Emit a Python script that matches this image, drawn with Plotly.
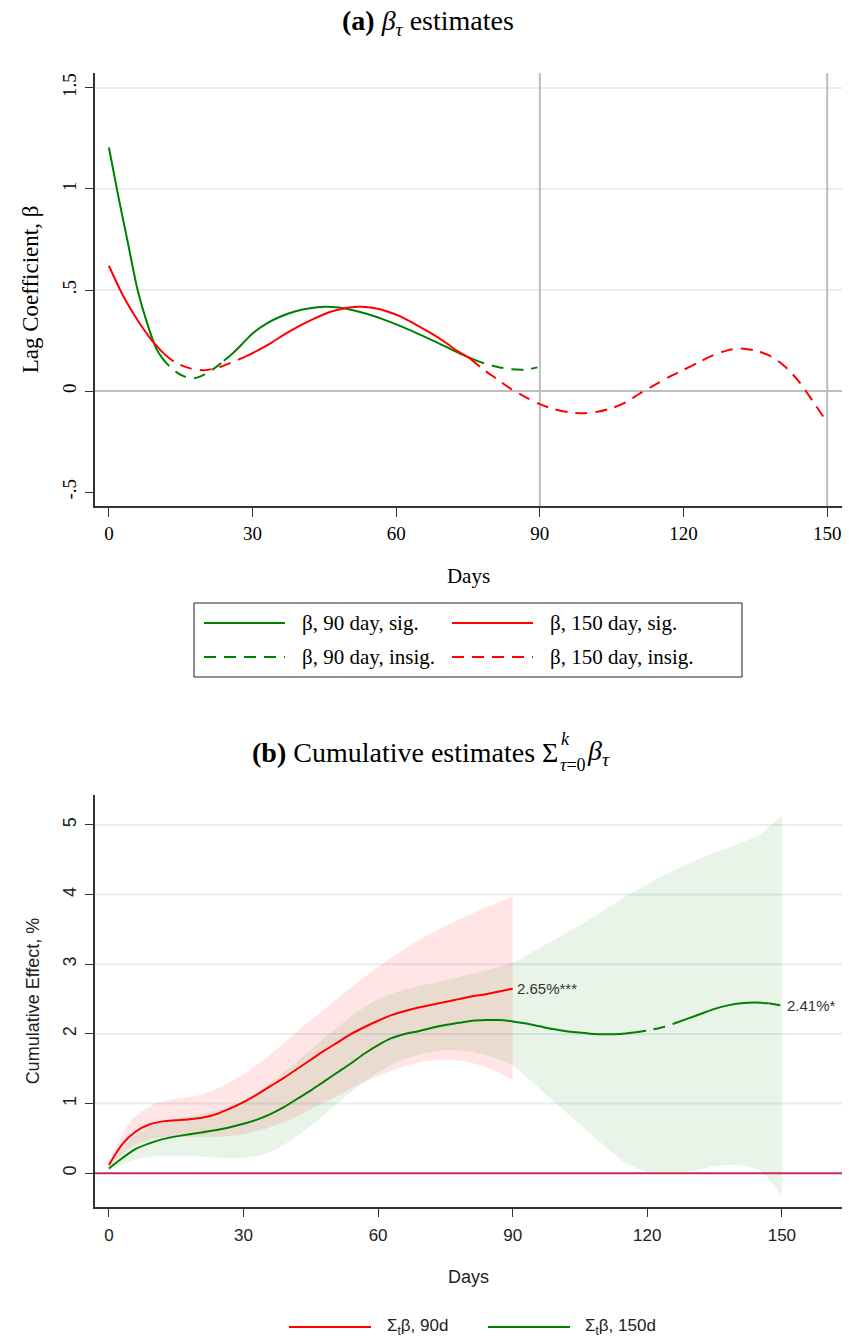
import plotly.graph_objects as go

W, H = 849, 1340

# ---------------- Panel (a): lag coefficients ----------------
a_green_days = [0, 2, 4, 6, 8, 10, 11, 12, 14, 16, 18, 20, 22, 24, 26, 28, 30, 33, 36, 39, 42, 45,
                48, 51, 54, 57, 60, 63, 66, 69, 72, 75, 76, 78, 81, 84, 87, 89.5]
a_green_vals = [1.205, 0.96, 0.73, 0.5, 0.335, 0.205, 0.168, 0.138, 0.095, 0.07, 0.064, 0.082, 0.112,
                0.15, 0.19, 0.237, 0.285, 0.335, 0.37, 0.395, 0.41, 0.417, 0.413, 0.40, 0.381, 0.357,
                0.33, 0.30, 0.268, 0.235, 0.2, 0.168, 0.158, 0.14, 0.12, 0.108, 0.106, 0.117]
a_green_insig = [(11, 24), (76, 89.5)]

a_red_days = [0, 3, 6, 9, 11.5, 14, 17, 20, 23, 26, 28.5, 31, 34, 37, 40, 43, 46, 49, 52, 55, 58, 61,
              64, 67, 70, 73, 75.5, 78, 81, 84, 87, 90, 93, 96, 99, 102, 105, 108, 111, 114, 117, 120,
              123, 126, 129, 132, 135, 138, 141, 144, 147, 150]
a_red_vals = [0.62, 0.47, 0.35, 0.25, 0.185, 0.14, 0.112, 0.103, 0.118, 0.145, 0.17, 0.2, 0.24, 0.285,
              0.325, 0.36, 0.39, 0.408, 0.417, 0.412, 0.395, 0.368, 0.33, 0.29, 0.245, 0.195, 0.16,
              0.11, 0.06, 0.01, -0.03, -0.065, -0.09, -0.105, -0.11, -0.103, -0.085, -0.055, -0.01,
              0.03, 0.07, 0.105, 0.14, 0.175, 0.2, 0.211, 0.2, 0.175, 0.125, 0.05, -0.05, -0.155]
a_red_insig = [(11.5, 28.5), (75.5, 150)]

a_yticks = [-0.5, 0, 0.5, 1, 1.5]
a_yticktext = ["-.5", "0", ".5", "1", "1.5"]
a_xticks = [0, 30, 60, 90, 120, 150]
a_legend_names = ["β, 90 day, sig.", "β, 150 day, sig.", "β, 90 day, insig.", "β, 150 day, insig."]

# ---------------- Panel (b): cumulative effects ----------------
b_red_days = [0, 3, 6, 9, 12, 15, 18, 21, 24, 27, 30, 33, 36, 39, 42, 45, 48, 51, 54, 57, 60, 63, 66,
              69, 72, 75, 78, 81, 84, 87, 90]
b_red_vals = [0.12, 0.42, 0.6, 0.7, 0.745, 0.76, 0.775, 0.8, 0.85, 0.93, 1.02, 1.13, 1.25, 1.37, 1.5,
              1.63, 1.76, 1.88, 2.0, 2.1, 2.19, 2.27, 2.33, 2.38, 2.42, 2.46, 2.5, 2.54, 2.57, 2.61, 2.65]

b_green_days = [0, 3, 6, 9, 12, 15, 18, 21, 24, 27, 30, 33, 36, 39, 42, 45, 48, 51, 54, 57, 60, 63, 66,
                69, 72, 75, 78, 81, 84, 87, 90, 93, 96, 99, 102, 105, 108, 111, 114, 117, 120, 123,
                126, 129, 132, 135, 138, 141, 144, 147, 150]
b_green_vals = [0.07, 0.22, 0.35, 0.43, 0.49, 0.53, 0.56, 0.59, 0.62, 0.66, 0.71, 0.77, 0.85, 0.95,
                1.07, 1.19, 1.32, 1.45, 1.58, 1.72, 1.84, 1.94, 2.0, 2.04, 2.09, 2.13, 2.16, 2.19, 2.2,
                2.2, 2.18, 2.15, 2.11, 2.07, 2.04, 2.02, 2.0, 1.995, 2.0, 2.02, 2.05, 2.09, 2.15, 2.22,
                2.29, 2.36, 2.41, 2.44, 2.45, 2.44, 2.41]
b_green_insig = [(117, 126), (147, 150)]

b_red_band_days = [0, 5, 10, 15, 20, 25, 30, 35, 40, 45, 50, 55, 60, 65, 70, 75, 80, 85, 90]
b_red_upper = [0.17, 0.76, 0.99, 1.07, 1.12, 1.24, 1.42, 1.65, 1.92, 2.2, 2.46, 2.72, 2.96, 3.18, 3.38,
               3.55, 3.7, 3.84, 3.97]
b_red_lower = [0.09, 0.38, 0.5, 0.52, 0.52, 0.52, 0.56, 0.64, 0.76, 0.92, 1.08, 1.25, 1.4, 1.52, 1.6,
               1.63, 1.6, 1.5, 1.34]

b_green_band_days = [0, 5, 10, 15, 20, 25, 30, 35, 40, 45, 50, 55, 60, 65, 70, 75, 80, 85, 90, 95, 100,
                     105, 110, 115, 120, 125, 130, 135, 140, 145, 150]
b_green_upper = [0.1, 0.5, 0.7, 0.78, 0.84, 0.92, 1.05, 1.25, 1.5, 1.78, 2.05, 2.3, 2.5, 2.62, 2.7,
                 2.77, 2.85, 2.93, 3.02, 3.2, 3.38, 3.56, 3.76, 3.97, 4.15, 4.32, 4.47, 4.6, 4.72,
                 4.86, 5.14]
b_green_lower = [0.04, 0.18, 0.24, 0.25, 0.24, 0.22, 0.22, 0.28, 0.45, 0.68, 0.95, 1.22, 1.45, 1.62,
                 1.72, 1.77, 1.75, 1.68, 1.55, 1.27, 0.98, 0.7, 0.42, 0.15, 0.02, 0.0, 0.03, 0.1,
                 0.12, 0.05, -0.32]

b_yticks = [0, 1, 2, 3, 4, 5]
b_xticks = [0, 30, 60, 90, 120, 150]
b_labels = ["2.65%***", "2.41%*"]
b_legend_names = ["Σ<sub>t</sub>β, 90d", "Σ<sub>t</sub>β, 150d"]

GREEN = "#008000"
RED = "#ff0000"
SERIF = "Liberation Serif"
SANS = "Liberation Sans"
DASH = "12px,8px"


def split_runs(days, vals, insig):
    bounds = sorted(set([days[0], days[-1]] + [d for r in insig for d in r]))
    runs = []
    for lo, hi in zip(bounds[:-1], bounds[1:]):
        idx = [i for i, d in enumerate(days) if lo <= d <= hi]
        sig = not any(a <= lo and hi <= b for a, b in insig)
        runs.append(([days[i] for i in idx], [vals[i] for i in idx], sig))
    return runs


fig = go.Figure()

# ---- panel (a) lines
for days, vals, insig, col in [(a_green_days, a_green_vals, a_green_insig, GREEN),
                               (a_red_days, a_red_vals, a_red_insig, RED)]:
    for xs, ys, sig in split_runs(days, vals, insig):
        fig.add_trace(go.Scatter(
            x=xs, y=ys, mode="lines", showlegend=False,
            line=dict(color=col, width=2, shape="spline", smoothing=0.8,
                      dash="solid" if sig else DASH),
            xaxis="x", yaxis="y", hoverinfo="skip"))

# ---- panel (b) bands (lower edge, then upper edge filled to it)
for bd, lo, up, fc in [(b_green_band_days, b_green_lower, b_green_upper, "rgba(0,128,0,0.09)"),
                       (b_red_band_days, b_red_lower, b_red_upper, "rgba(255,0,0,0.10)")]:
    fig.add_trace(go.Scatter(x=bd, y=lo, mode="lines", showlegend=False,
                             line=dict(width=0, shape="spline", smoothing=0.6),
                             xaxis="x2", yaxis="y2", hoverinfo="skip"))
    fig.add_trace(go.Scatter(x=bd, y=up, mode="lines", showlegend=False, fill="tonexty",
                             fillcolor=fc, line=dict(width=0, shape="spline", smoothing=0.6),
                             xaxis="x2", yaxis="y2", hoverinfo="skip"))

# ---- panel (b) lines
fig.add_trace(go.Scatter(
    x=b_red_days, y=b_red_vals, mode="lines", showlegend=False,
    line=dict(color=RED, width=2, shape="spline", smoothing=0.8),
    xaxis="x2", yaxis="y2", hoverinfo="skip"))
for xs, ys, sig in split_runs(b_green_days, b_green_vals, b_green_insig):
    fig.add_trace(go.Scatter(
        x=xs, y=ys, mode="lines", showlegend=False,
        line=dict(color=GREEN, width=2, shape="spline", smoothing=0.8,
                  dash="solid" if sig else DASH),
        xaxis="x2", yaxis="y2", hoverinfo="skip"))


def py(px):
    return 1 - px / H


def px_(x):
    return x / W


# ---- reference lines
shapes = []
for v in [0.5, 1, 1.5]:
    shapes.append(dict(type="line", xref="x domain", yref="y", x0=0, x1=1, y0=v, y1=v,
                       line=dict(color="#e6eef1", width=2), layer="below"))
shapes.append(dict(type="line", xref="x domain", yref="y", x0=0, x1=1, y0=0, y1=0,
                   line=dict(color="#bdbdbd", width=2), layer="below"))
for v in [90, 150]:
    shapes.append(dict(type="line", xref="x", yref="y domain", x0=v, x1=v, y0=0, y1=1,
                       line=dict(color="#bdbdbd", width=2), layer="below"))
for v in [1, 2, 3, 4, 5]:
    shapes.append(dict(type="line", xref="x2 domain", yref="y2", x0=0, x1=1, y0=v, y1=v,
                       line=dict(color="#e6eef1", width=2), layer="below"))
shapes.append(dict(type="line", xref="x2 domain", yref="y2", x0=0, x1=1, y0=0, y1=0,
                   line=dict(color="#c8285a", width=2), layer="above"))

annotations = [
    dict(text="<b>(a)</b> <i>β</i><sub><i>τ</i></sub> estimates", xref="paper", yref="paper",
         x=px_(428), y=py(22), xanchor="center", yanchor="middle", showarrow=False,
         font=dict(family=SERIF, size=28, color="black")),
    dict(text="<b>(b)</b> Cumulative estimates Σ", xref="paper", yref="paper",
         x=px_(560), y=py(752), xanchor="right", yanchor="middle", showarrow=False,
         font=dict(family=SERIF, size=28, color="black")),
    dict(text="<i>k</i>", xref="paper", yref="paper", x=px_(559), y=py(739), xanchor="left",
         yanchor="middle", showarrow=False, font=dict(family=SERIF, size=18, color="black")),
    dict(text="<i>τ</i>=0", xref="paper", yref="paper", x=px_(558), y=py(765), xanchor="left",
         yanchor="middle", showarrow=False, font=dict(family=SERIF, size=18, color="black")),
    dict(text="<i>β</i><sub><i>τ</i></sub>", xref="paper", yref="paper", x=px_(585), y=py(752),
         xanchor="left", yanchor="middle", showarrow=False,
         font=dict(family=SERIF, size=28, color="black")),
    dict(text=b_labels[0], xref="x2", yref="y2", x=b_red_days[-1], y=b_red_vals[-1],
         xanchor="left", yanchor="middle", xshift=2, showarrow=False,
         font=dict(family=SANS, size=15, color="#333")),
    dict(text=b_labels[1], xref="x2", yref="y2", x=b_green_days[-1], y=b_green_vals[-1],
         xanchor="left", yanchor="middle", xshift=3, showarrow=False,
         font=dict(family=SANS, size=15, color="#333")),
]

# ---- legend (a): box, samples and labels
shapes.append(dict(type="rect", xref="paper", yref="paper", x0=px_(194), x1=px_(742),
                   y0=py(677), y1=py(603), line=dict(color="#222", width=1),
                   fillcolor="rgba(0,0,0,0)"))
leg_a = [(204, 300, 623, GREEN, "solid"), (452, 548, 623, RED, "solid"),
         (204, 300, 657, GREEN, DASH), (452, 548, 657, RED, DASH)]
for (lx, tx, ly, col, dsh), name in zip(leg_a, a_legend_names):
    shapes.append(dict(type="line", xref="paper", yref="paper", x0=px_(lx), x1=px_(lx + 81),
                       y0=py(ly), y1=py(ly), line=dict(color=col, width=2, dash=dsh)))
    annotations.append(dict(text=name, xref="paper", yref="paper", x=px_(tx), y=py(ly),
                            xanchor="left", yanchor="middle", showarrow=False,
                            font=dict(family=SERIF, size=21, color="black")))

# ---- legend (b)
leg_b = [(289, 385, 1327, RED), (488, 583, 1327, GREEN)]
for (lx, tx, ly, col), name in zip(leg_b, b_legend_names):
    shapes.append(dict(type="line", xref="paper", yref="paper", x0=px_(lx), x1=px_(lx + 82),
                       y0=py(ly), y1=py(ly), line=dict(color=col, width=2)))
    annotations.append(dict(text=name, xref="paper", yref="paper", x=px_(tx), y=py(ly),
                            xanchor="left", yanchor="middle", showarrow=False,
                            font=dict(family=SANS, size=17, color="#222")))

axis_common = dict(showline=True, linecolor="#333", linewidth=1.5, ticks="outside",
                   tickcolor="#333", showgrid=False, zeroline=False, automargin=False)

fig.update_layout(
    width=W, height=H, margin=dict(l=0, r=0, t=0, b=0, autoexpand=False),
    paper_bgcolor="white", plot_bgcolor="white", showlegend=False,
    shapes=shapes, annotations=annotations,
    xaxis=dict(domain=[px_(95), px_(842)], range=[-2.9, 153.1], anchor="y",
               tickvals=a_xticks, ticklen=9,
               tickfont=dict(family=SERIF, size=19, color="black"),
               title=dict(text="Days", font=dict(family=SERIF, size=21, color="black"), standoff=26),
               **axis_common),
    yaxis=dict(domain=[py(506), py(73)], range=[-0.569, 1.574], anchor="x",
               tickvals=a_yticks, ticktext=a_yticktext, tickangle=-90, ticklen=8,
               ticklabelstandoff=2,
               tickfont=dict(family=SERIF, size=19, color="black"),
               title=dict(text="Lag Coefficient, β", font=dict(family=SERIF, size=23, color="black"),
                          standoff=14),
               **axis_common),
    xaxis2=dict(domain=[px_(95), px_(842)], range=[-3.1, 163.4], anchor="y2",
                tickvals=b_xticks, ticklen=8, ticklabelstandoff=4,
                tickfont=dict(family=SANS, size=17, color="#222"),
                title=dict(text="Days", font=dict(family=SANS, size=18, color="#222"), standoff=26),
                **axis_common),
    yaxis2=dict(domain=[py(1207), py(795)], range=[-0.484, 5.43], anchor="x2",
                tickvals=b_yticks, tickangle=-90, ticklen=8, ticklabelstandoff=2,
                tickfont=dict(family=SANS, size=18, color="#222"),
                title=dict(text="Cumulative Effect, %", font=dict(family=SANS, size=18, color="#222"),
                           standoff=16),
                **axis_common),
)

fig.write_html("out.html")
